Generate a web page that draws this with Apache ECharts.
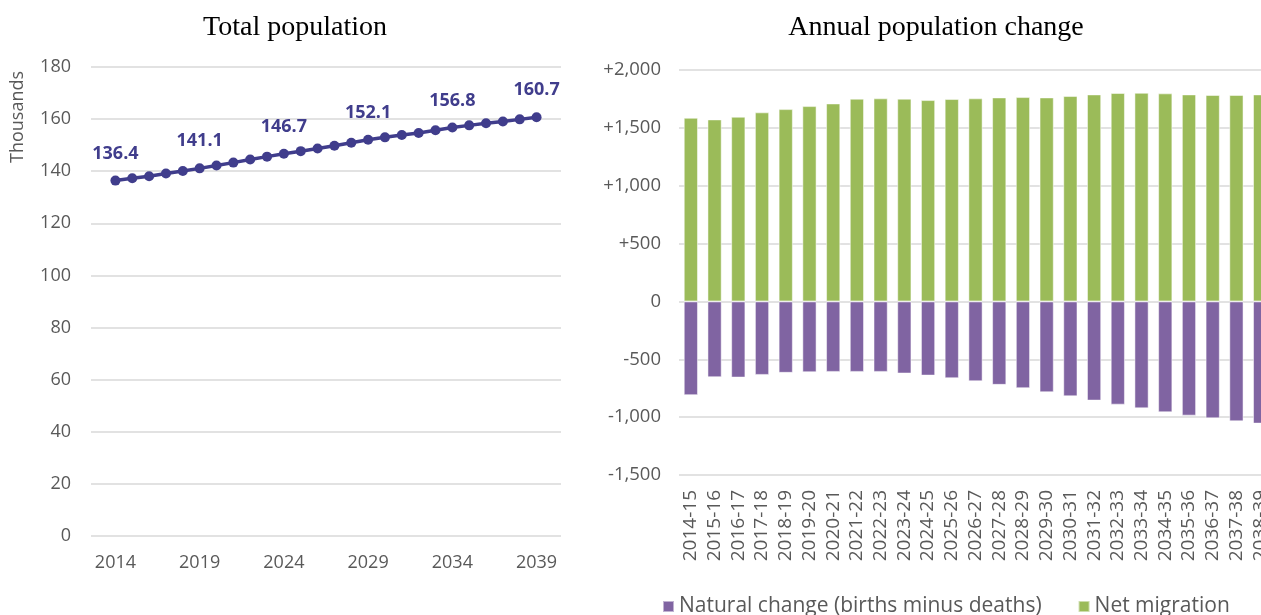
<!DOCTYPE html>
<html>
<head>
<meta charset="utf-8">
<script src="https://cdn.jsdelivr.net/npm/echarts@6/dist/echarts.min.js"></script>
<style>
  html, body { margin: 0; padding: 0; background: #fff; }
  #main { width: 1261px; height: 615px; }
</style>
</head>
<body>
<div id="main"></div>
<script>
// total population (thousands), one point per year
var years = [2014, 2015, 2016, 2017, 2018, 2019, 2020, 2021, 2022, 2023, 2024, 2025, 2026,
  2027, 2028, 2029, 2030, 2031, 2032, 2033, 2034, 2035, 2036, 2037, 2038, 2039];
var population = [136.4, 137.3, 138.1, 139.1, 140.1, 141.1, 142.2, 143.3, 144.5, 145.6, 146.7, 147.7, 148.7,
  149.8, 150.9, 152.1, 153.0, 153.9, 154.7, 155.7, 156.8, 157.6, 158.4, 159.1, 159.9, 160.7];
var yearTicks = [2014, 2019, 2024, 2029, 2034, 2039];

// annual change
var periods = ['2014-15', '2015-16', '2016-17', '2017-18', '2018-19', '2019-20', '2020-21', '2021-22',
  '2022-23', '2023-24', '2024-25', '2025-26', '2026-27', '2027-28', '2028-29', '2029-30', '2030-31',
  '2031-32', '2032-33', '2033-34', '2034-35', '2035-36', '2036-37', '2037-38', '2038-39'];
var naturalChange = [-810, -655, -658, -635, -617, -612, -609, -609, -609, -623, -641, -664, -690,
  -721, -750, -785, -820, -857, -892, -924, -958, -987, -1010, -1036, -1056];
var netMigration = [1587, 1573, 1596, 1634, 1662, 1688, 1711, 1752, 1755, 1752, 1740, 1749, 1755,
  1763, 1766, 1763, 1775, 1789, 1801, 1803, 1798, 1789, 1784, 1784, 1789];

var font = "'Open Sans', sans-serif";
var serif = "'Liberation Serif', serif";
var grey = '#595959';
var gridCol = '#d9d9d9';
var navy = '#403d8c';
var purple = '#8064a2';
var green = '#9bbb59';

var chart = echarts.init(document.getElementById('main'), null, { renderer: 'canvas' });

function fmtChange(v) {
  var s = Math.abs(v).toLocaleString('en-US');
  if (v > 0) return '+' + s;
  if (v < 0) return '-' + s;
  return '0';
}

chart.setOption({
  animation: false,
  backgroundColor: '#fff',
  textStyle: { fontFamily: font },
  title: [
    { text: 'Total population', left: 290, top: 9, textAlign: 'center',
      textStyle: { fontFamily: serif, fontSize: 28, fontWeight: 'normal', color: '#000' } },
    { text: 'Annual population change', left: 931, top: 9, textAlign: 'center',
      textStyle: { fontFamily: serif, fontSize: 28, fontWeight: 'normal', color: '#000' } }
  ],
  graphic: [{
    type: 'text', x: 18, y: 117, rotation: Math.PI / 2,
    style: { text: 'Thousands', fill: grey, font: '18px ' + font, align: 'center', verticalAlign: 'middle' }
  }],
  legend: {
    left: 657, bottom: -7,
    itemWidth: 11, itemHeight: 11, itemGap: 36,
    icon: 'rect',
    textStyle: { fontSize: 21, color: grey, fontFamily: font },
    data: ['Natural change (births minus deaths)', 'Net migration']
  },
  grid: [
    { left: 91, right: 700, top: 67, bottom: 79, outerBoundsMode: 'none' },
    { left: 679, right: -11, top: 70, bottom: 140, outerBoundsMode: 'none' }
  ],
  xAxis: [
    {
      gridIndex: 0, type: 'value', min: 2012.55, max: 2040.45,
      axisLine: { show: false }, axisTick: { show: false }, splitLine: { show: false },
      axisLabel: {
        customValues: yearTicks, color: grey, fontSize: 18, margin: 18,
        formatter: function(v) { return String(v); }
      }
    },
    {
      gridIndex: 1, type: 'category', data: periods,
      axisLine: { show: false }, axisTick: { show: false },
      axisLabel: { rotate: 90, interval: 0, color: grey, fontSize: 19, margin: 15 }
    }
  ],
  yAxis: [
    {
      gridIndex: 0, type: 'value', min: 0, max: 180, interval: 20,
      axisLine: { show: false }, axisTick: { show: false },
      splitLine: { lineStyle: { color: gridCol, width: 1.5 } },
      axisLabel: { color: grey, fontSize: 18, margin: 20 }
    },
    {
      gridIndex: 1, type: 'value', min: -1500, max: 2000, interval: 500,
      axisLine: { show: false }, axisTick: { show: false },
      splitLine: { lineStyle: { color: gridCol, width: 1.5 } },
      axisLabel: { color: grey, fontSize: 18.5, margin: 18, formatter: fmtChange }
    }
  ],
  series: [
    {
      name: 'Total population', type: 'line', xAxisIndex: 0, yAxisIndex: 0,
      data: years.map(function(y, i) { return [y, population[i]]; }),
      symbol: 'circle', symbolSize: 10,
      lineStyle: { color: navy, width: 3.5 },
      itemStyle: { color: navy },
      label: {
        show: true, position: 'top', distance: 13,
        color: navy, fontSize: 18, fontWeight: 'bold',
        formatter: function(p) {
          return yearTicks.indexOf(p.value[0]) >= 0 ? p.value[1].toFixed(1) : '';
        }
      }
    },
    {
      name: 'Natural change (births minus deaths)', type: 'bar', xAxisIndex: 1, yAxisIndex: 1,
      stack: 'chg', data: naturalChange, barCategoryGap: '40%',
      itemStyle: { color: purple, borderColor: 'rgba(255,255,255,0.5)', borderWidth: 1 }
    },
    {
      name: 'Net migration', type: 'bar', xAxisIndex: 1, yAxisIndex: 1,
      stack: 'chg', data: netMigration, barCategoryGap: '40%',
      itemStyle: { color: green, borderColor: 'rgba(255,255,255,0.5)', borderWidth: 1 }
    }
  ]
});

window.addEventListener('resize', function() { chart.resize(); });
</script>
</body>
</html>
